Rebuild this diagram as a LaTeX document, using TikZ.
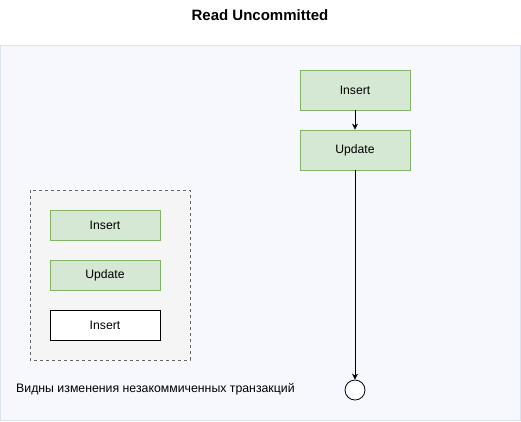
\documentclass[tikz,border=0pt]{standalone}
\usepackage{fontspec}
\setmainfont{Liberation Sans}
\usetikzlibrary{arrows.meta}
\definecolor{panelblue}{RGB}{246,248,253}
\definecolor{panelline}{RGB}{218,226,238}
\definecolor{opgreen}{RGB}{213,232,212}
\definecolor{opline}{RGB}{130,179,102}
\definecolor{groupgray}{RGB}{245,245,245}
\definecolor{groupline}{RGB}{102,102,102}
\tikzset{
  op/.style={
    rectangle,
    minimum width=110pt,
    line width=0.8pt,
    font=\fontsize{12.2}{14}\selectfont,
    inner sep=0pt
  },
  op-green/.style={
    op,
    draw=opline,
    fill=opgreen
  },
  op-white/.style={
    op,
    draw=black,
    fill=white
  },
  flow/.style={line width=0.8pt, -{Stealth[length=6pt,width=6pt]}},
  end-dot/.style={circle, draw=black, fill=white, line width=0.8pt, minimum size=20pt, inner sep=0pt}
}

\begin{document}
\begin{tikzpicture}[x=1pt,y=-1pt]
  \useasboundingbox (0,0) rectangle (521,421);
  % Title
  \node[font=\bfseries\fontsize{15}{18}\selectfont] (title) at (260,15) {Read Uncommitted};
  % Panels
  \draw[draw=panelline, fill=panelblue, line width=0.8pt] (0.5,45) rectangle (520.5,420.5);
  \draw[draw=groupline, fill=groupgray, dashed, line width=0.6pt] (30,190) rectangle (190,360);
  % Transaction
  \node[op-green, minimum height=40pt] (insA) at (355,90) {Insert};
  \node[op-green, minimum height=40pt] (updA) at (355,150) {Update};
  \node[end-dot] (stop) at (355,390) {};
  % Legend
  \node[op-green, minimum height=30pt] (insB) at (105,225) {Insert};
  \node[op-green, minimum height=30pt] (updB) at (105,275) {Update};
  \node[op-white, minimum height=30pt] (insC) at (105,325) {Insert};
  % Caption
  \node[anchor=west, font=\fontsize{12.3}{14}\selectfont, inner sep=0pt] (caption) at (16,389) {Видны изменения незакоммиченных транзакций};
  % Arrows
  \draw[flow] (insA) -- (updA);
  \draw[flow] (updA) -- (stop);
\end{tikzpicture}
\end{document}
